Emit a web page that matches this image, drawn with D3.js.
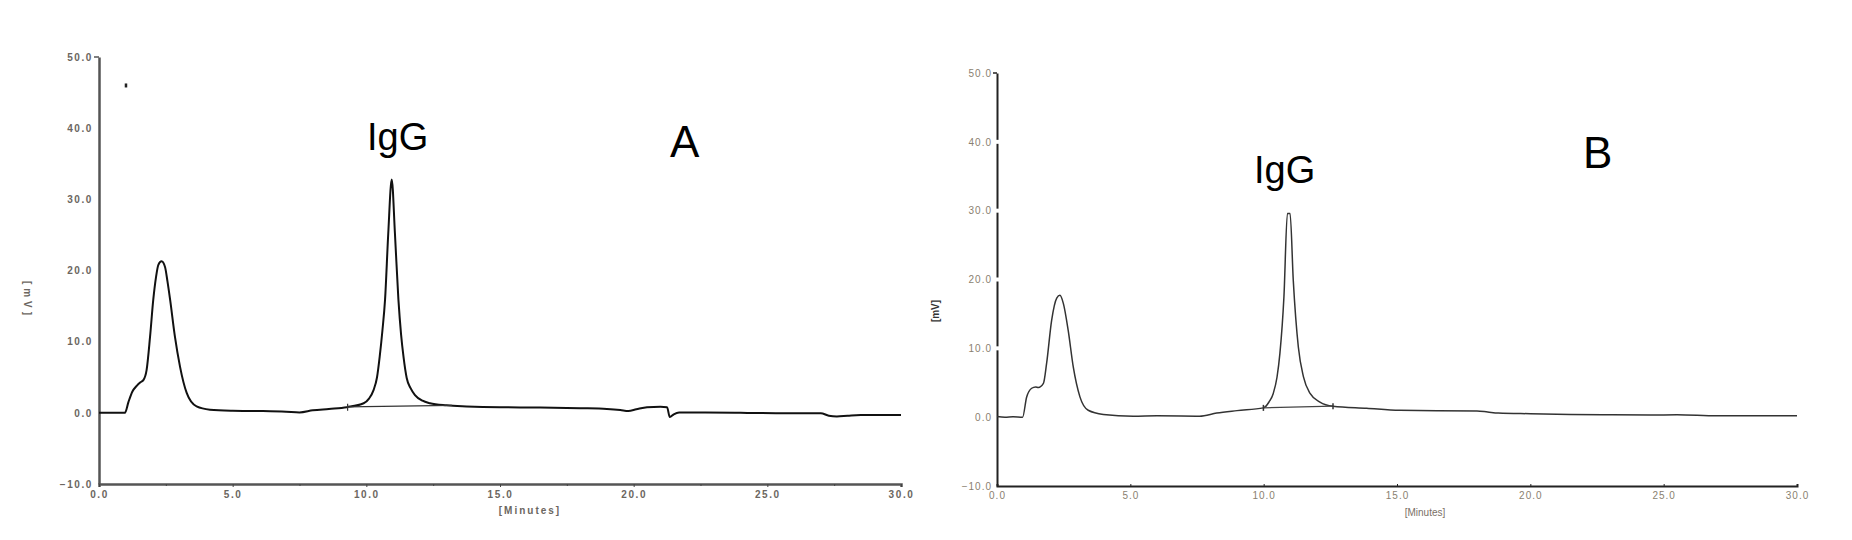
<!DOCTYPE html>
<html><head><meta charset="utf-8">
<script src="https://cdn.jsdelivr.net/npm/d3@7"></script>
<style>
body{margin:0;background:#fff;}
svg{display:block;font-family:"Liberation Sans",Arial,sans-serif;}
</style></head>
<body><svg id="c" width="1852" height="540"></svg>
<script>
// ---- data ----
const yTicks = [-10, 0, 10, 20, 30, 40, 50];
const xTicks = [0, 5, 10, 15, 20, 25, 30];
const xMinorTicks = [2.5, 7.5, 12.5, 17.5, 22.5, 27.5];

const timeA = [0,0.5,0.97,1.1,1.25,1.41,1.55,1.66,1.78,1.91,2.03,2.13,2.22,2.34,2.47,2.56,2.66,2.84,3.03,3.28,3.65,4.15,5.0,6.0,7.0,7.5,8.0,8.6,9.27,9.9,10.1,10.27,10.4,10.5,10.6,10.7,10.82,10.95,11.07,11.2,11.3,11.39,11.51,11.65,11.82,12.1,12.38,13.0,13.75,15.0,16.5,18.0,19.0,19.5,19.8,20.1,20.5,21.0,21.25,21.35,21.5,21.7,22.5,24.0,25.5,27.0,27.3,27.6,28.0,28.5,29.0,30.0];
const signalA = [0,0,0,1.5,3.0,3.8,4.3,4.6,6.0,10.7,15.9,19.0,20.8,21.3,20.5,18.5,15.9,10.7,6.5,2.8,0.9,0.45,0.3,0.25,0.15,0.05,0.35,0.55,0.8,1.35,2.0,3.2,5.0,7.9,11.5,15.9,25.2,32.8,25.2,15.9,11.0,7.9,4.9,3.5,2.5,1.7,1.35,1.05,0.9,0.78,0.75,0.65,0.55,0.4,0.25,0.5,0.8,0.85,0.8,-0.6,-0.2,0.05,0.05,0.0,-0.05,-0.05,-0.4,-0.5,-0.4,-0.3,-0.3,-0.3];
const baseTimeA = [9.3, 13.2];
const baseSignalA = [0.85, 1.05];
const markA = [1.0, 46];

const timeB = [0,0.3,0.6,0.96,1.11,1.3,1.45,1.55,1.74,1.86,2.05,2.24,2.36,2.49,2.67,2.86,3.11,3.42,3.99,5.11,6.0,7.6,8.24,9.0,9.99,10.2,10.36,10.5,10.61,10.76,10.89,10.99,11.11,11.3,11.49,11.74,12.11,12.6,13.86,15.1,16.5,18.0,18.4,18.8,20.0,21.5,23.0,24.5,25.5,27.0,28.5,30.0];
const signalB = [0.1,0.0,0.05,0,2.9,4.2,4.4,4.3,4.9,7.8,14.1,17.3,17.7,16.5,12.6,7.3,2.95,1.0,0.4,0.15,0.2,0.15,0.6,0.95,1.35,2.2,3.45,5.8,9.3,17.5,29.6,29.6,19.9,10.2,5.9,3.45,2.2,1.6,1.3,1.0,0.95,0.9,0.75,0.6,0.5,0.4,0.35,0.3,0.35,0.2,0.2,0.2];
const baseTimeB = [9.99, 12.6];
const baseSignalB = [1.35, 1.6];

const svg = d3.select("#c");
const fmt = d3.format(".1f");

// ================= Panel A =================
const xA = d3.scaleLinear().domain([0,30]).range([99,901]);
const yA = d3.scaleLinear().domain([-10,50]).range([484,57]);
const gA = svg.append("g");

// y axis
const axA = gA.append("g").attr("transform","translate(99,0)")
  .call(d3.axisLeft(yA).tickValues(yTicks).tickSize(0).tickPadding(6).tickFormat(fmt));
axA.select(".domain").attr("stroke","#555").attr("stroke-width",2.5);
axA.selectAll("text").attr("font-size",10).attr("fill","#6b6660").attr("letter-spacing","1.6px").attr("font-weight","bold");
gA.append("line").attr("x1",94).attr("x2",99).attr("y1",yA(50)).attr("y2",yA(50)).attr("stroke","#555").attr("stroke-width",1.5);

// x axis
const bxA = gA.append("g").attr("transform","translate(0,484)")
  .call(d3.axisBottom(xA).tickValues(xTicks).tickSize(3).tickPadding(4).tickFormat(fmt));
bxA.select(".domain").attr("stroke","#555").attr("stroke-width",2.5);
bxA.selectAll(".tick line").attr("stroke","#444");
bxA.selectAll("text").attr("font-size",10).attr("fill","#6b6660").attr("letter-spacing","1.6px").attr("font-weight","bold");
gA.append("g").attr("transform","translate(0,484)")
  .call(d3.axisBottom(xA).tickValues(xMinorTicks).tickSize(2).tickFormat(""))
  .call(g=>g.select(".domain").remove())
  .selectAll("line").attr("stroke","#444");

gA.append("text").attr("x",530).attr("y",514).attr("text-anchor","middle")
  .attr("font-size",10).attr("letter-spacing","2px").attr("fill","#6b6660").attr("font-weight","bold").text("[Minutes]");
gA.append("text").attr("transform","translate(24,300) rotate(90)").attr("text-anchor","middle")
  .attr("font-size",10).attr("letter-spacing","4px").attr("fill","#6b6660").attr("font-weight","bold").text("[mV]");

// curve
const lineA = d3.line().x((d,i)=>xA(timeA[i])).y(d=>yA(d)).curve(d3.curveMonotoneX);
gA.append("path").attr("d",lineA(signalA)).attr("fill","none").attr("stroke","#111").attr("stroke-width",2);
const blA = d3.line().x((d,i)=>xA(baseTimeA[i])).y(d=>yA(d));
gA.append("path").attr("d",blA(baseSignalA)).attr("fill","none").attr("stroke","#333").attr("stroke-width",1.2);
gA.append("line").attr("x1",xA(baseTimeA[0])).attr("x2",xA(baseTimeA[0]))
  .attr("y1",yA(baseSignalA[0])-3).attr("y2",yA(baseSignalA[0])+4).attr("stroke","#333").attr("stroke-width",1.2);
gA.append("rect").attr("x",xA(markA[0])-1).attr("y",yA(markA[1])-2).attr("width",2.5).attr("height",4).attr("fill","#222");

gA.append("text").attr("x",367).attr("y",150).attr("font-size",38).attr("fill","#000").text("IgG");
gA.append("text").attr("x",670).attr("y",157).attr("font-size",44).attr("fill","#000").text("A");

// ================= Panel B =================
const xB = d3.scaleLinear().domain([0,30]).range([997,1797]);
const yB = d3.scaleLinear().domain([-10,50]).range([486,73]);
const gB = svg.append("g");

const axB = gB.append("g").attr("transform","translate(997,0)")
  .call(d3.axisLeft(yB).tickValues(yTicks).tickSize(0).tickPadding(5).tickFormat(fmt));
axB.select(".domain").attr("stroke","#222").attr("stroke-width",2);
axB.selectAll("text").attr("font-size",10).attr("fill","#8a7f70").attr("letter-spacing","1px");
// small gaps in the axis line at the inner ticks
gB.selectAll("rect.gap").data(yTicks.filter(v=>v>0 && v<50)).enter().append("rect")
  .attr("x",995).attr("y",d=>yB(d)-2).attr("width",4).attr("height",4).attr("fill","#fff");
gB.append("line").attr("x1",993).attr("x2",997).attr("y1",yB(50)).attr("y2",yB(50)).attr("stroke","#222").attr("stroke-width",1.5);

const bxB = gB.append("g").attr("transform","translate(0,486)")
  .call(d3.axisBottom(xB).tickValues(xTicks).tickSize(-2).tickPadding(6).tickFormat(fmt));
bxB.select(".domain").attr("stroke","#222").attr("stroke-width",2);
bxB.selectAll(".tick line").attr("stroke","#222");
bxB.selectAll("text").attr("font-size",10).attr("fill","#8a7f70").attr("letter-spacing","1px");

gB.append("text").attr("x",1425).attr("y",516).attr("text-anchor","middle")
  .attr("font-size",10).attr("fill","#7a7066").text("[Minutes]");
gB.append("text").attr("transform","translate(939,311) rotate(-90)").attr("text-anchor","middle")
  .attr("font-size",10).attr("font-weight","bold").attr("fill","#333").text("[mV]");

const lineB = d3.line().x((d,i)=>xB(timeB[i])).y(d=>yB(d)).curve(d3.curveMonotoneX);
gB.append("path").attr("d",lineB(signalB)).attr("fill","none").attr("stroke","#333").attr("stroke-width",1.5);
const blB = d3.line().x((d,i)=>xB(baseTimeB[i])).y(d=>yB(d));
gB.append("path").attr("d",blB(baseSignalB)).attr("fill","none").attr("stroke","#444").attr("stroke-width",1.3);
gB.selectAll("line.bt").data(baseTimeB).enter().append("line")
  .attr("x1",d=>xB(d)).attr("x2",d=>xB(d))
  .attr("y1",(d,i)=>yB(baseSignalB[i])-3).attr("y2",(d,i)=>yB(baseSignalB[i])+3)
  .attr("stroke","#333").attr("stroke-width",1.5);

gB.append("text").attr("x",1254).attr("y",183).attr("font-size",38).attr("fill","#000").text("IgG");
gB.append("text").attr("x",1583).attr("y",168).attr("font-size",44).attr("fill","#000").text("B");
</script></body></html>
